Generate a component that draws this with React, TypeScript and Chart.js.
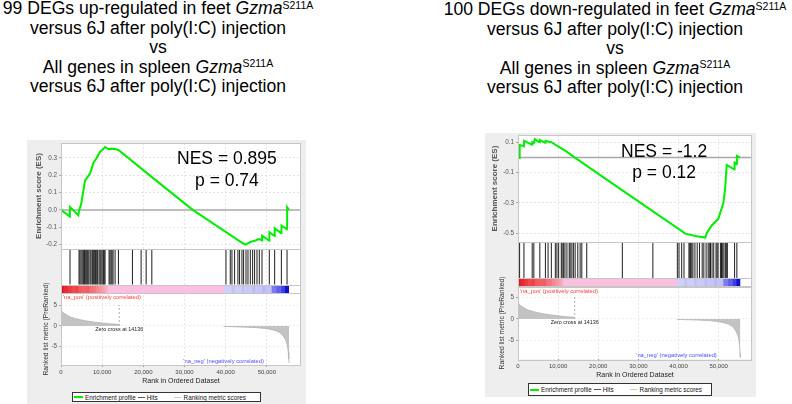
import React, { useEffect, useRef } from 'react';
import { Chart, registerables } from 'chart.js';

Chart.register(...registerables);

const FONT = '"Liberation Sans", Arial, Helvetica, sans-serif';
Chart.defaults.font.family = FONT;

// ---------------- shared x axis (rank in ordered dataset) ----------------
const rankAxisMax = 58300;
const rankTicks = [0, 10000, 20000, 30000, 40000, 50000];
const zeroCross = 14136;

// ---------------- ranked list metric (same ranked list for both plots) ----------------
const metricPosRank = [0, 60, 200, 500, 1000, 2200, 3500, 5000, 6300, 8000, 10400, 12000, 14136];
const metricPosValue = [5.1, 4.3, 3.7, 3.2, 2.9, 2.2, 1.8, 1.45, 1.2, 0.95, 0.68, 0.52, 0.4];
const metricNegRank = [39500, 42000, 45000, 47500, 49500, 51000, 52500, 53500, 54200, 54700, 55000, 55200, 55330, 55400];
const metricNegValue = [-0.1, -0.18, -0.28, -0.4, -0.58, -0.82, -1.25, -1.85, -2.7, -3.7, -4.8, -6.2, -8.0, -9.0];
const metricTicks = [-5, 0, 5];

// ---------------- colour bar of the ranked list ----------------
const barStart = [0, 700, 1800, 2600, 3500, 4300, 5200, 6100, 7000, 7800, 8600, 9400, 10200, 10900, 11450, 39700, 41500, 42200, 44000, 44600, 46500, 47200, 49000, 49700, 51250, 52400, 53600, 54500];
const barEnd = [700, 1800, 2600, 3500, 4300, 5200, 6100, 7000, 7800, 8600, 9400, 10200, 10900, 11450, 39700, 41500, 42200, 44000, 44600, 46500, 47200, 49000, 49700, 51250, 52400, 53600, 54500, 55300];
const barColor = ['#e0141e', '#ea2a30', '#ee3a3e', '#f0484c', '#ef4248', '#f25a5e', '#f26066', '#f35a62', '#f4707a', '#f47880', '#f6888f', '#f7969e', '#f6a2b0', '#f8b0c4', '#fbc0e0', '#cfcff8', '#c2c2f5', '#cdcdf8', '#c0c0f4', '#cacaf7', '#bebef4', '#c6c6f6', '#b8b8f2', '#c2c2f5', '#7c7cf0', '#6060ec', '#3c3ce4', '#1010cc'];

// ---------------- left plot: 99 DEGs up-regulated ----------------
const esUpRank = [0, 2150, 2190, 4200, 4380, 4870, 5430, 5840, 6490, 7060, 7870, 8680, 9490, 10300, 10700, 11510, 12170, 13140, 13950, 22000, 32000, 43550, 44770, 45990, 47030, 47610, 48200, 48830, 48850, 50600, 50620, 51900, 51920, 53530, 53550, 54910, 54930, 55400];
const esUpValue = [0, -0.038, 0.016, -0.03, -0.005, 0.03, 0.11, 0.17, 0.19, 0.21, 0.27, 0.3, 0.335, 0.35, 0.362, 0.35, 0.352, 0.35, 0.345, 0.19, 0.0, -0.183, -0.2, -0.185, -0.178, -0.172, -0.168, -0.176, -0.148, -0.178, -0.128, -0.15, -0.106, -0.134, -0.09, -0.112, 0.016, 0.0];
const hitsUp = [2190, 4380, 4600, 4870, 5150, 5430, 5700, 6000, 6250, 6490, 6750, 7060, 7300, 7620, 7850, 8100, 8400, 8680, 8900, 9250, 9500, 9730, 10000, 10300, 10500, 10700, 11680, 11900, 12170, 12400, 12650, 13140, 13950, 17350, 19460, 20680, 22060, 40070, 41120, 41530, 42170, 42980, 43380, 43960, 44360, 44940, 45420, 45990, 46550, 47030, 47610, 48170, 48830, 50600, 51900, 53530, 54910];
const esUpTicks = [-0.2, -0.1, 0, 0.1, 0.2, 0.3];

// ---------------- right plot: 100 DEGs down-regulated ----------------
const esDownRank = [0, 400, 420, 1300, 1480, 1500, 3540, 3560, 3950, 4200, 5020, 5440, 5460, 6600, 6830, 6850, 7490, 8310, 9560, 12040, 14090, 27000, 41700, 44170, 46650, 47040, 48280, 49930, 51170, 51590, 52000, 53940, 53960, 54510, 54530, 55300];
const esDownValue = [0, -0.004, 0.082, 0.076, 0.074, 0.11, 0.083, 0.1, 0.095, 0.12, 0.104, 0.1, 0.115, 0.098, 0.096, 0.11, 0.105, 0.1, 0.08, 0.04, 0.0, -0.236, -0.504, -0.52, -0.53, -0.5, -0.45, -0.405, -0.3, -0.21, -0.05, -0.08, -0.035, -0.045, 0.01, 0.0];
const hitsDown = [400, 1480, 3540, 3950, 5440, 6830, 7490, 8310, 9300, 9700, 10130, 10780, 11000, 11370, 11700, 12190, 12760, 13000, 13420, 13800, 14240, 14900, 15480, 15900, 17130, 26000, 33600, 39700, 40120, 40780, 41360, 42590, 42800, 43010, 43300, 43580, 44080, 44650, 45230, 45890, 46300, 46870, 47370, 47650, 47960, 48350, 48770, 49340, 49600, 49840, 50430, 50700, 51000, 51300, 51660, 51900, 52160, 53960, 54530];
const esDownTicks = [-0.5, -0.4, -0.3, -0.2, -0.1, 0, 0.1];

const legendLabels = ['Enrichment profile', 'Hits', 'Ranking metric scores'];

type PanelSpec = {
  left: number; top: number; width: number; height: number;
  yWidth: number; padTop: number; padRight: number; padBottom: number;
  esRank: number[]; esValue: number[]; hits: number[]; esTicks: number[];
  esMin: number; esMax: number; rMin: number; rMax: number;
  esTitlePad: number; rTitlePad: number;
  nes: string; p: string; nesAt: [number, number]; pAt: [number, number];
  legend: { left: number; top: number; width: number; height: number };
};

const panels: PanelSpec[] = [
  {
    left: 27, top: 140, width: 279, height: 264,
    yWidth: 34, padTop: 3, padRight: 5, padBottom: 19,
    esRank: esUpRank, esValue: esUpValue, hits: hitsUp, esTicks: esUpTicks,
    esMin: -0.225, esMax: 0.385, rMin: -9.42, rMax: 7.97,
    esTitlePad: 7, rTitlePad: 15.5,
    nes: 'NES = 0.895', p: 'p = 0.74', nesAt: [40300, 0.293], pAt: [40300, 0.164],
    legend: { left: 72, top: 392, width: 189, height: 10 },
  },
  {
    left: 485, top: 133, width: 271, height: 264,
    yWidth: 33, padTop: 2, padRight: 4, padBottom: 17.7,
    esRank: esDownRank, esValue: esDownValue, hits: hitsDown, esTicks: esDownTicks,
    esMin: -0.56, esMax: 0.148, rMin: -9.46, rMax: 7.58,
    esTitlePad: 4.5, rTitlePad: 13.5,
    nes: 'NES = -1.2', p: 'p = 0.12', nesAt: [36400, 0.037], pAt: [36400, -0.102],
    legend: { left: 528, top: 383, width: 184, height: 13 },
  },
];

function makeConfig(spec: PanelSpec): any {
  const fixY = (s: any) => { s.width = spec.yWidth; s.paddingTop = 0; s.paddingBottom = 0; };
  const stackY = { position: 'left', stack: 'gsea', afterFit: fixY };

  const decor = {
    id: 'gseaDecor',
    beforeDraw(chart: any) {
      const { ctx, chartArea: a, width, height } = chart;
      ctx.save();
      ctx.fillStyle = '#eeeeee';
      ctx.fillRect(0, 0, width, height);
      ctx.fillStyle = '#ffffff';
      ctx.fillRect(a.left, a.top, a.right - a.left, a.bottom - a.top);
      ctx.restore();
    },
    beforeDatasetsDraw(chart: any) {
      const { ctx, chartArea: a } = chart;
      const y = chart.scales.yES.getPixelForValue(0);
      ctx.save();
      ctx.strokeStyle = '#a8a8a8';
      ctx.lineWidth = 1.5;
      ctx.beginPath();
      ctx.moveTo(a.left, y);
      ctx.lineTo(a.right, y);
      ctx.stroke();
      ctx.restore();
    },
    afterDatasetsDraw(chart: any) {
      const { ctx, chartArea: a, scales } = chart;
      ctx.save();
      ctx.strokeStyle = '#c6c6c6';
      ctx.lineWidth = 1;
      for (const id of ['yES', 'yHits', 'yBar', 'yRank']) {
        const s = scales[id];
        ctx.strokeRect(Math.round(a.left) + 0.5, Math.round(s.top) + 0.5, Math.round(a.right - a.left) - 1, Math.round(s.bottom - s.top));
      }
      const x = scales.x, yE = scales.yES, yR = scales.yRank;
      ctx.fillStyle = '#000';
      ctx.textAlign = 'center';
      ctx.textBaseline = 'middle';
      ctx.font = `17.5px ${FONT}`;
      ctx.fillText(spec.nes, x.getPixelForValue(spec.nesAt[0]), yE.getPixelForValue(spec.nesAt[1]));
      ctx.fillText(spec.p, x.getPixelForValue(spec.pAt[0]), yE.getPixelForValue(spec.pAt[1]));

      ctx.font = `5.8px ${FONT}`;
      ctx.textAlign = 'left';
      ctx.fillStyle = '#ff3a3a';
      ctx.fillText("'na_pos' (positively correlated)", a.left + 2, yR.top + 4.5);
      ctx.textAlign = 'center';
      ctx.fillStyle = '#4a4aff';
      ctx.fillText("'na_neg' (negatively correlated)", x.getPixelForValue(39500), yR.getPixelForValue(-8.5));
      ctx.font = `5.4px ${FONT}`;
      ctx.fillStyle = '#222';
      ctx.fillText(`Zero cross at ${zeroCross}`, x.getPixelForValue(zeroCross), yR.getPixelForValue(-0.9));
      ctx.restore();
    },
  };

  const zeroCrossTop = Math.max(...metricPosValue);

  return {
    type: 'line',
    data: {
      datasets: [
        {
          type: 'line', label: 'Enrichment profile', yAxisID: 'yES', xAxisID: 'x',
          data: spec.esRank.map((r, i) => ({ x: r, y: spec.esValue[i] })),
          borderColor: '#00ee00', borderWidth: 2, pointRadius: 0, fill: false, tension: 0,
        },
        {
          type: 'scatter', label: 'Hits', yAxisID: 'yHits', xAxisID: 'x',
          data: spec.hits.map((r) => ({ x: r, y: 0.5 })),
          showLine: false, pointStyle: 'line', pointRotation: 90,
          pointRadius: (c: any) => { const s = c.chart.scales.yHits; return s ? (s.bottom - s.top) / 2 - 0.5 : 17; },
          pointBorderColor: '#1e1e1e', pointBorderWidth: 1, pointBackgroundColor: '#1e1e1e',
        },
        {
          type: 'bar', label: '', indexAxis: 'y', yAxisID: 'yBar', xAxisID: 'x',
          data: barStart.map((s, i) => ({ x: [s, barEnd[i]], y: 'bar' })),
          backgroundColor: barColor, borderWidth: 0, barPercentage: 1, categoryPercentage: 1,
        },
        {
          type: 'line', label: 'Ranking metric scores', yAxisID: 'yRank', xAxisID: 'x',
          data: metricPosRank.map((r, i) => ({ x: r, y: metricPosValue[i] })),
          borderColor: '#b4b4b4', borderWidth: 0.8, backgroundColor: '#c3c3c3', fill: 'origin', pointRadius: 0, tension: 0,
        },
        {
          type: 'line', label: 'Ranking metric scores (neg)', yAxisID: 'yRank', xAxisID: 'x',
          data: metricNegRank.map((r, i) => ({ x: r, y: metricNegValue[i] })),
          borderColor: '#b4b4b4', borderWidth: 0.8, backgroundColor: '#c3c3c3', fill: 'origin', pointRadius: 0, tension: 0,
        },
        {
          type: 'line', label: 'Zero cross', yAxisID: 'yRank', xAxisID: 'x',
          data: [{ x: zeroCross, y: 0 }, { x: zeroCross, y: zeroCrossTop }],
          borderColor: '#9a9a9a', borderWidth: 0.8, borderDash: [2, 2], pointRadius: 0, fill: false,
        },
      ],
    },
    options: {
      responsive: false,
      animation: false,
      events: [],
      layout: { padding: { left: 0, top: spec.padTop, right: spec.padRight, bottom: spec.padBottom } },
      plugins: { legend: { display: false }, tooltip: { enabled: false } },
      scales: {
        x: {
          type: 'linear', position: 'bottom', min: 0, max: rankAxisMax,
          afterBuildTicks: (s: any) => { s.ticks = rankTicks.map((v) => ({ value: v })); },
          afterFit: (s: any) => { s.height = 20; s.paddingLeft = 0; s.paddingRight = 0; },
          ticks: {
            font: { size: 6 }, color: '#444', padding: 1.5, maxRotation: 0, autoSkip: false,
            callback: (v: any) => Number(v).toLocaleString('en-US'),
          },
          grid: { color: '#e6e6e6', lineWidth: 1, drawTicks: true, tickLength: 2, tickColor: '#999', tickBorderDash: [] },
          border: { display: false, dash: [2, 2] },
          title: { display: true, text: 'Rank in Ordered Dataset', font: { size: 7 }, color: '#222', padding: 0 },
        },
        yES: {
          ...stackY, type: 'linear', weight: 4, stackWeight: 106, min: spec.esMin, max: spec.esMax,
          afterBuildTicks: (s: any) => { s.ticks = spec.esTicks.map((v) => ({ value: v })); },
          ticks: {
            font: { size: 6.3 }, color: '#555', padding: 2,
            callback: (v: any) => (Math.abs(v) < 1e-9 ? '0.0' : Number(v).toFixed(1)),
          },
          grid: {
            color: (c: any) => (c.tick && Math.abs(c.tick.value) < 1e-9 ? 'rgba(0,0,0,0)' : '#e2e2e2'),
            drawTicks: true, tickLength: 2, tickColor: '#aaa', tickBorderDash: [],
          },
          border: { display: false, dash: [2, 2] },
          title: { display: true, text: 'Enrichment score (ES)', font: { size: 8, weight: 'bold' }, color: '#555', padding: { top: spec.esTitlePad, bottom: 0 } },
        },
        yHits: {
          ...stackY, type: 'linear', weight: 3, stackWeight: 36, min: 0, max: 1,
          ticks: { display: false }, grid: { display: false }, border: { display: false },
        },
        yBar: {
          ...stackY, type: 'category', labels: ['bar'], weight: 2, stackWeight: 8, offset: true,
          ticks: { display: false }, grid: { display: false }, border: { display: false },
        },
        yRank: {
          ...stackY, type: 'linear', weight: 1, stackWeight: 72, min: spec.rMin, max: spec.rMax,
          afterBuildTicks: (s: any) => { s.ticks = metricTicks.map((v) => ({ value: v })); },
          ticks: { font: { size: 6.3 }, color: '#555', padding: 2, callback: (v: any) => String(v) },
          grid: { color: '#ededed', drawTicks: true, tickLength: 2, tickColor: '#aaa', tickBorderDash: [] },
          border: { display: false, dash: [2, 2] },
          title: { display: true, text: 'Ranked list metric (PreRanked)', font: { size: 6.7 }, color: '#333', padding: { top: spec.rTitlePad, bottom: 0 } },
        },
      },
    },
    plugins: [decor],
  };
}

function Legend({ box }: { box: PanelSpec['legend'] }) {
  const line = (color: string, w: number, h: number, ml: number) => (
    <span style={{ display: 'inline-block', width: w, height: h, background: color, marginLeft: ml, flex: 'none' }} />
  );
  return (
    <div
      style={{
        position: 'absolute', left: box.left, top: box.top, width: box.width, height: box.height,
        boxSizing: 'border-box', border: '1px solid #333', background: '#ffffff',
        display: 'flex', alignItems: 'center', paddingLeft: 1, fontFamily: FONT, fontSize: '6.3px',
        color: '#111', whiteSpace: 'nowrap', overflow: 'hidden',
      }}
    >
      {line('#00ee00', 9, 2, 0)}
      <span style={{ marginLeft: 2 }}>{legendLabels[0]}</span>
      {line('#555555', 7, 1, 2.5)}
      <span style={{ marginLeft: 1.5 }}>{legendLabels[1]}</span>
      {line('#ffffff', 8, 1.5, 5)}
      {line('#cccccc', 7, 1, 3)}
      <span style={{ marginLeft: 3 }}>{legendLabels[2]}</span>
    </div>
  );
}

function GseaPanel({ spec }: { spec: PanelSpec }) {
  const ref = useRef<HTMLCanvasElement>(null);
  useEffect(() => {
    if (!ref.current) return;
    const chart = new Chart(ref.current, makeConfig(spec));
    return () => chart.destroy();
  }, [spec]);
  return (
    <>
      <div style={{ position: 'absolute', left: spec.left, top: spec.top, width: spec.width, height: spec.height }}>
        <canvas ref={ref} width={spec.width} height={spec.height} style={{ display: 'block', width: spec.width, height: spec.height }} />
      </div>
      <Legend box={spec.legend} />
    </>
  );
}

const supStyle: React.CSSProperties = { fontSize: '10.5px', lineHeight: 0, position: 'relative', top: '-5.5px', verticalAlign: 'baseline' };

function Title({ center, top, first }: { center: number; top: number; first: string }) {
  return (
    <div
      style={{
        position: 'absolute', left: center - 200, top, width: 400, textAlign: 'center',
        fontFamily: FONT, fontSize: '17.6px', lineHeight: '19.5px', color: '#000', whiteSpace: 'nowrap',
      }}
    >
      <div>{first} <i>Gzma</i><span style={supStyle}>S211A</span></div>
      <div>versus 6J after poly(I:C) injection</div>
      <div>vs</div>
      <div>All genes in spleen <i>Gzma</i><span style={supStyle}>S211A</span></div>
      <div>versus 6J after poly(I:C) injection</div>
    </div>
  );
}

export default function App() {
  return (
    <div style={{ position: 'fixed', left: 0, top: 0, width: 792, height: 404, background: '#ffffff', overflow: 'hidden' }}>
      <Title center={158} top={-1} first="99 DEGs up-regulated in feet" />
      <Title center={615} top={0} first="100 DEGs down-regulated in feet" />
      {panels.map((p, i) => <GseaPanel key={i} spec={p} />)}
    </div>
  );
}
